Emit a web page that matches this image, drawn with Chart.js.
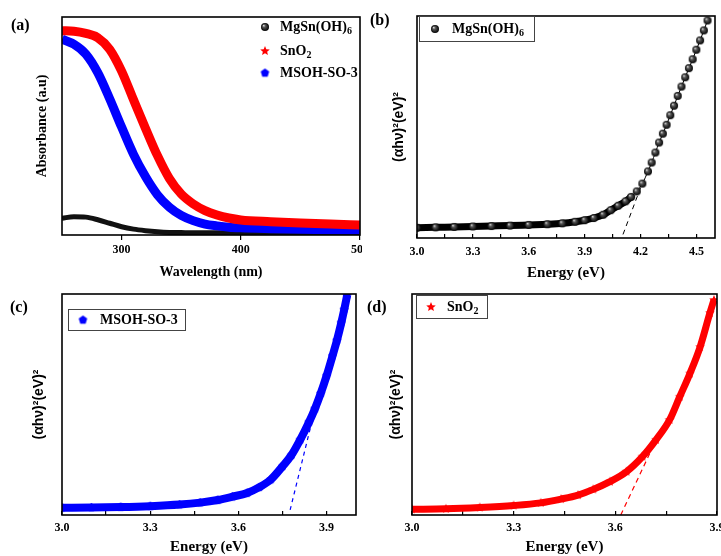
<!DOCTYPE html>
<html lang="en">
<head>
<meta charset="UTF-8">
<title>UV-vis absorbance and Tauc plots</title>
<script src="https://cdn.jsdelivr.net/npm/chart.js"></script>
<style>
  body { margin: 0; background: #fff; }
  #fig { position: relative; width: 721px; height: 556px; overflow: hidden;
         font-family: "Liberation Serif", "Times New Roman", serif; color: #000; }
  #fig canvas.panel { position: absolute; }
  .tag { position: absolute; font-weight: bold; font-size: 16px; line-height: 20px; }
  .row { position: absolute; font-weight: bold; font-size: 14px; line-height: 18px; height: 18px; white-space: nowrap; }
  .row img { position: absolute; top: 50%; transform: translate(-50%, -50%); }
  .row span { position: absolute; top: 0; }
  .row sub { font-size: 10px; vertical-align: -3px; }
  .box { position: absolute; border: 1px solid #444; box-sizing: border-box; background: #fff; }
</style>
</head>
<body>
<div id="fig">
  <canvas id="chartA" class="panel" width="362" height="285" style="left:0;top:0"></canvas>
  <canvas id="chartB" class="panel" width="361" height="285" style="left:360px;top:0"></canvas>
  <canvas id="chartC" class="panel" width="362" height="276" style="left:0;top:280px"></canvas>
  <canvas id="chartD" class="panel" width="361" height="276" style="left:360px;top:280px"></canvas>

  <div class="tag" style="left:11px;top:15px">(a)</div>
  <div class="tag" style="left:370px;top:10px">(b)</div>
  <div class="tag" style="left:10px;top:297px">(c)</div>
  <div class="tag" style="left:367px;top:297px">(d)</div>

  <!-- legend (a) -->
  <div class="row" style="left:0;top:18px;width:360px"><img data-m="sphere" style="left:265px"><span style="left:280px">MgSn(OH)<sub>6</sub></span></div>
  <div class="row" style="left:0;top:42px;width:360px"><img data-m="star" style="left:265px"><span style="left:280px">SnO<sub>2</sub></span></div>
  <div class="row" style="left:0;top:64px;width:360px"><img data-m="pent" style="left:265px"><span style="left:280px">MSOH-SO-3</span></div>

  <!-- legend (b) -->
  <div class="box" style="left:419px;top:16px;width:116px;height:26px"></div>
  <div class="row" style="left:0;top:20px;width:720px"><img data-m="sphere" style="left:435px"><span style="left:452px">MgSn(OH)<sub>6</sub></span></div>

  <!-- legend (c) -->
  <div class="box" style="left:68px;top:309px;width:118px;height:22px"></div>
  <div class="row" style="left:0;top:311px;width:360px"><img data-m="pent" style="left:83px"><span style="left:100px">MSOH-SO-3</span></div>

  <!-- legend (d) -->
  <div class="box" style="left:416px;top:295px;width:72px;height:24px"></div>
  <div class="row" style="left:0;top:298px;width:720px"><img data-m="star" style="left:431px"><span style="left:447px">SnO<sub>2</sub></span></div>
</div>

<script>
// (a) absorbance vs wavelength (normalised, a.u.)
const wavelength = [250, 260, 270, 280, 290, 300, 310, 320, 330, 340, 350, 360, 370, 380, 390, 400, 425, 450, 475, 500];
const absMgSnOH = [0.077, 0.084, 0.082, 0.070, 0.054, 0.038, 0.027, 0.020, 0.015, 0.012, 0.011, 0.010, 0.010, 0.010, 0.010, 0.010, 0.010, 0.010, 0.010, 0.010];
const absSnO2 = [0.937, 0.935, 0.925, 0.905, 0.852, 0.752, 0.620, 0.490, 0.365, 0.260, 0.188, 0.143, 0.112, 0.092, 0.078, 0.069, 0.061, 0.055, 0.050, 0.046];
const absMSOH = [0.898, 0.875, 0.830, 0.745, 0.625, 0.495, 0.370, 0.268, 0.185, 0.128, 0.090, 0.066, 0.050, 0.042, 0.036, 0.033, 0.029, 0.026, 0.024, 0.023];
const ticksA = [300, 400, 500];

// (b) Tauc plot MgSn(OH)6
const energyB = [3.00, 3.10, 3.20, 3.30, 3.40, 3.50, 3.60, 3.70, 3.78, 3.85, 3.90, 3.95, 4.00, 4.04, 4.08, 4.12, 4.15, 4.18, 4.21, 4.24, 4.26, 4.28, 4.30, 4.32, 4.34, 4.36, 4.38, 4.40, 4.42, 4.44, 4.46, 4.48, 4.50, 4.52, 4.54, 4.56];
const taucB = [0.046, 0.048, 0.050, 0.052, 0.054, 0.056, 0.059, 0.062, 0.066, 0.073, 0.080, 0.090, 0.105, 0.125, 0.145, 0.165, 0.185, 0.210, 0.245, 0.300, 0.340, 0.385, 0.430, 0.470, 0.510, 0.553, 0.596, 0.640, 0.682, 0.724, 0.765, 0.805, 0.848, 0.890, 0.935, 0.980];
const fitB = [{ x: 4.106, y: 0.016 }, { x: 4.200, y: 0.226 }];
const majorB = [3.0, 3.3, 3.6, 3.9, 4.2, 4.5];
const minorB = [3.15, 3.45, 3.75, 4.05, 4.35];

// (c) Tauc plot MSOH-SO-3
const energyC = [3.00, 3.10, 3.20, 3.30, 3.40, 3.47, 3.53, 3.58, 3.63, 3.67, 3.71, 3.75, 3.78, 3.81, 3.84, 3.86, 3.88, 3.90, 3.92, 3.935, 3.95, 3.96, 3.97];
const taucC = [0.033, 0.034, 0.036, 0.040, 0.047, 0.056, 0.068, 0.083, 0.100, 0.125, 0.160, 0.220, 0.270, 0.340, 0.420, 0.480, 0.550, 0.630, 0.720, 0.790, 0.870, 0.930, 0.995];
const fitC = [{ x: 3.776, y: 0.023 }, { x: 3.857, y: 0.460 }];
const majorC = [3.0, 3.3, 3.6, 3.9];
const minorC = [3.15, 3.45, 3.75];

// (d) Tauc plot SnO2
const energyD = [3.00, 3.10, 3.20, 3.30, 3.38, 3.44, 3.49, 3.535, 3.584, 3.633, 3.68, 3.72, 3.76, 3.79, 3.82, 3.85, 3.879, 3.891];
const taucD = [0.026, 0.028, 0.034, 0.043, 0.055, 0.072, 0.090, 0.116, 0.151, 0.196, 0.264, 0.340, 0.430, 0.535, 0.640, 0.760, 0.914, 0.973];
const fitD = [{ x: 3.616, y: 0.0 }, { x: 3.702, y: 0.280 }];
const majorD = [3.0, 3.3, 3.6, 3.9];
const minorD = [3.15, 3.45, 3.75];

const RED = '#ff0000';
const BLUE = '#0000ff';
const serif = '"Liberation Serif", "Times New Roman", serif';
const sans = '"Liberation Sans", Arial, sans-serif';

const toXY = (xs, ys) => xs.map((x, i) => ({ x: x, y: ys[i] }));

// marker images
function sphere(r) {
    const c = document.createElement('canvas');
    c.width = c.height = Math.ceil(2 * r + 2);
    const g = c.getContext('2d');
    const m = c.width / 2;
    const grd = g.createRadialGradient(m - r * 0.35, m - r * 0.4, 0.2, m, m, r);
    grd.addColorStop(0, '#d8d8d8');
    grd.addColorStop(0.35, '#555');
    grd.addColorStop(1, '#000');
    g.fillStyle = grd;
    g.beginPath();
    g.arc(m, m, r, 0, Math.PI * 2);
    g.fill();
    return c;
}

function polygon(r, color, n, inner) {
    const c = document.createElement('canvas');
    c.width = c.height = Math.ceil(2 * r + 2);
    const g = c.getContext('2d');
    const m = c.width / 2;
    const k = inner ? n * 2 : n;
    g.fillStyle = color;
    g.beginPath();
    for (let i = 0; i < k; i++) {
        const a = -Math.PI / 2 + i * Math.PI * 2 / k;
        const rr = inner && i % 2 ? r * inner : r;
        const px = m + rr * Math.cos(a), py = m + rr * Math.sin(a);
        i ? g.lineTo(px, py) : g.moveTo(px, py);
    }
    g.closePath();
    g.fill();
    return c;
}

const markers = {
    sphere: sphere(4),
    star: polygon(5, RED, 5, 0.45),
    pent: polygon(4.5, BLUE, 5)
};
document.querySelectorAll('img[data-m]').forEach(img => {
    img.src = markers[img.dataset.m].toDataURL();
});

const framePlugin = {
    id: 'frame',
    afterDraw(chart) {
        const { ctx, chartArea: a } = chart;
        ctx.save();
        ctx.strokeStyle = '#000';
        ctx.lineWidth = 1.6;
        ctx.strokeRect(a.left, a.top, a.right - a.left, a.bottom - a.top);
        ctx.restore();
    }
};

function xAxis(min, max, majors, minors, o) {
    const all = majors.concat(minors).sort((p, q) => p - q);
    return {
        type: 'linear', min: min, max: max,
        afterFit: s => { s.height = o.height; s.paddingLeft = 0; s.paddingRight = 0; },
        afterBuildTicks: s => { s.ticks = all.map(v => ({ value: v })); },
        border: { display: false },
        grid: { drawOnChartArea: false, tickLength: o.tick, color: '#000', lineWidth: 1.2 },
        ticks: {
            autoSkip: false, maxRotation: 0, padding: o.pad, color: '#000',
            font: { family: serif, size: 12, weight: 'bold' },
            callback: v => majors.includes(v) ? (o.fmt ? o.fmt(v) : v) : ''
        },
        title: {
            display: true, text: o.title, color: '#000',
            font: { family: serif, size: o.titleSize, weight: 'bold' },
            padding: { top: 0, bottom: o.titlePad }
        }
    };
}

function yAxis(width, title, font, pad) {
    return {
        min: 0, max: 1,
        afterFit: s => { s.width = width; },
        border: { display: false },
        grid: { display: false },
        ticks: { display: false },
        title: { display: true, text: title, color: '#000', font: font, padding: { top: pad, bottom: 0 } }
    };
}

function baseOptions(padding, scales) {
    return {
        responsive: false,
        animation: false,
        layout: { padding: padding, autoPadding: false },
        elements: { line: { cubicInterpolationMode: 'monotone', fill: false } },
        plugins: { legend: { display: false }, tooltip: { enabled: false } },
        scales: scales
    };
}

const tauTitle = '(\u03b1h\u03bd)\u00b2(eV)\u00b2';
const tauFont = { family: sans, size: 14, weight: 'bold' };
const fmt1 = v => v.toFixed(1);

// (a)
new Chart(document.getElementById('chartA'), {
    type: 'line',
    data: {
        datasets: [
            { label: 'MgSn(OH)6', data: toXY(wavelength, absMgSnOH), borderColor: '#111', borderWidth: 5, pointRadius: 0, order: 2, clip: 0 },
            { label: 'SnO2', data: toXY(wavelength, absSnO2), borderColor: RED, borderWidth: 9, pointRadius: 0, order: 0, clip: 0 },
            { label: 'MSOH-SO-3', data: toXY(wavelength, absMSOH), borderColor: BLUE, borderWidth: 9, pointRadius: 0, order: 1, clip: 0 }
        ]
    },
    options: baseOptions({ top: 17, right: 2, left: 0, bottom: 0 }, {
        x: xAxis(250, 500, ticksA, [], { height: 50, tick: 5, pad: 3, title: 'Wavelength (nm)', titleSize: 14, titlePad: 4 }),
        y: yAxis(62, 'Absorbance (a.u)', { family: serif, size: 14, weight: 'bold' }, 34)
    }),
    plugins: [framePlugin]
});

// (b)
new Chart(document.getElementById('chartB'), {
    type: 'line',
    data: {
        datasets: [
            { label: 'MgSn(OH)6', data: toXY(energyB, taucB), borderColor: '#000', borderWidth: 7,
              segment: { borderWidth: c => c.p0.parsed.x >= 4.15 ? 1 : 7 },
              pointStyle: markers.sphere, pointRadius: 4, clip: 0 },
            { label: 'fit', data: fitB, borderColor: '#000', borderWidth: 1, borderDash: [5, 4], pointRadius: 0 }
        ]
    },
    options: baseOptions({ top: 16, right: 6, left: 0, bottom: 0 }, {
        x: xAxis(3.0, 4.6, majorB, minorB, { height: 47, tick: -4, pad: 11, fmt: fmt1, title: 'Energy (eV)', titleSize: 15, titlePad: 3 }),
        y: yAxis(57, tauTitle, tauFont, 31)
    }),
    plugins: [framePlugin]
});

// (c)
new Chart(document.getElementById('chartC'), {
    type: 'line',
    data: {
        datasets: [
            { label: 'MSOH-SO-3', data: toXY(energyC, taucC), borderColor: BLUE, borderWidth: 8,
              pointStyle: markers.pent, pointRadius: 4, clip: 0 },
            { label: 'fit', data: fitC, borderColor: BLUE, borderWidth: 1.2, borderDash: [4, 4], pointRadius: 0 }
        ]
    },
    options: baseOptions({ top: 14, right: 6, left: 0, bottom: 0 }, {
        x: xAxis(3.0, 4.0, majorC, minorC, { height: 41, tick: -4, pad: 10, fmt: fmt1, title: 'Energy (eV)', titleSize: 15, titlePad: 0 }),
        y: yAxis(62, tauTitle, tauFont, 31)
    }),
    plugins: [framePlugin]
});

// (d)
new Chart(document.getElementById('chartD'), {
    type: 'line',
    data: {
        datasets: [
            { label: 'SnO2', data: toXY(energyD, taucD), borderColor: RED, borderWidth: 7,
              pointStyle: markers.star, pointRadius: 5, clip: 0 },
            { label: 'fit', data: fitD, borderColor: RED, borderWidth: 1.2, borderDash: [5, 4], pointRadius: 0 }
        ]
    },
    options: baseOptions({ top: 14, right: 4, left: 0, bottom: 0 }, {
        x: xAxis(3.0, 3.9, majorD, minorD, { height: 41, tick: -4, pad: 10, fmt: fmt1, title: 'Energy (eV)', titleSize: 15, titlePad: 0 }),
        y: yAxis(52, tauTitle, tauFont, 28)
    }),
    plugins: [framePlugin]
});
</script>
</body>
</html>
